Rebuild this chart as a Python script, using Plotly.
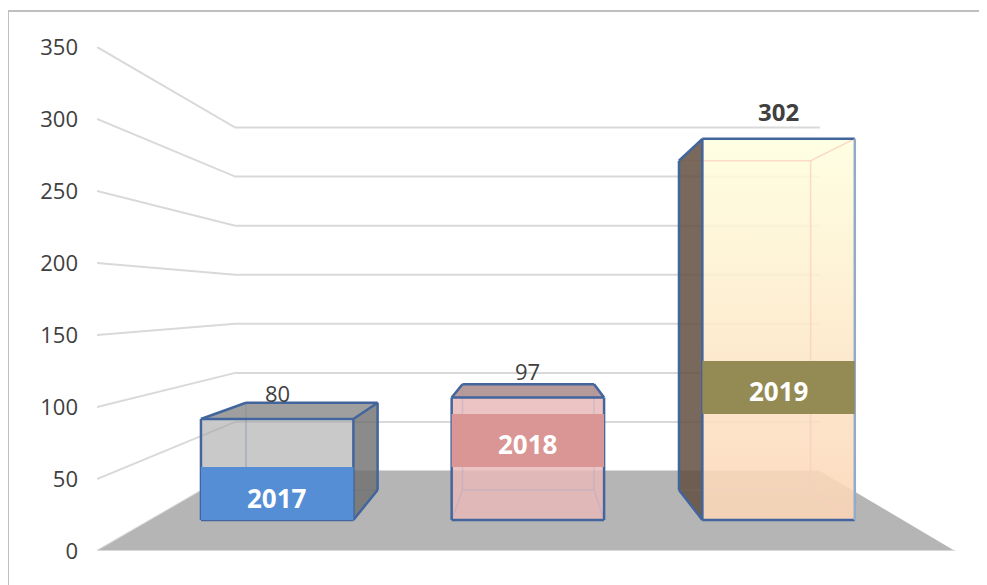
import plotly.graph_objects as go

# data
CATEGORIES = ['2017', '2018', '2019']
VALUES = [80, 97, 302]
Y_TICKS = [0, 50, 100, 150, 200, 250, 300, 350]

# colours per bar
FRONT = ['rgba(165,165,165,0.6)', 'rgba(232,185,185,0.84)', 'rgba(255,255,223,0.88)']
SIDE = ['rgba(110,110,110,0.8)', 'rgba(232,185,185,0.25)', 'rgba(98,79,64,0.85)']
TOP = ['rgba(135,135,135,0.8)', 'rgba(170,138,138,0.85)', 'rgba(255,255,223,0.3)']
BAND = ['#558ed5', '#d99694', '#948a54']
INNER = ['rgba(120,140,180,0.45)', 'rgba(165,165,195,0.35)', 'rgba(250,205,190,0.7)']
EDGE = '#41659c'
GRID = '#d9d9d9'
FLOOR = '#b5b5b5'
TEXT = '#404040'
FONT = 'Open Sans'

# perspective of the 3d box, in axis units
VP_X, VP_Y = 1.0175, 174.4
S_FRONT, S_BACK, S_WALL = 0.8766, 0.757, 0.6815
BAR_HALF = 0.304
BAR_SHIFT = 0.005
BAND_H = 42
LABEL_SHIFT = [10, 13, 27]


def project(x, v, s):
    return VP_X + s * (x - VP_X), VP_Y + s * (v - VP_Y)


def poly(points, color, gradient=None):
    xs = [p[0] for p in points]
    ys = [p[1] for p in points]
    kw = dict(fillgradient=gradient) if gradient else dict(fillcolor=color)
    return go.Scatter(x=xs, y=ys, mode='lines', fill='toself', cliponaxis=False,
                      line=dict(width=0, color='rgba(0,0,0,0)'),
                      hoverinfo='skip', showlegend=False, **kw)


def seg(a, b, color, width):
    return go.Scatter(x=[a[0], b[0]], y=[a[1], b[1]], mode='lines', cliponaxis=False,
                      line=dict(color=color, width=width), hoverinfo='skip', showlegend=False)


fig = go.Figure()

# wall and side gridlines
for t in Y_TICKS:
    pts = [project(-0.5, t, 1), project(-0.5, t, S_WALL), project(2.5, t, S_WALL)]
    fig.add_trace(go.Scatter(x=[p[0] for p in pts], y=[p[1] for p in pts], mode='lines',
                             cliponaxis=False, line=dict(color=GRID, width=2),
                             hoverinfo='skip', showlegend=False))

# floor
fig.add_trace(poly([project(-0.5, 0, 1), project(2.5, 0, 1), project(2.5, 0, S_WALL), project(-0.5, 0, S_WALL)], FLOOR))
fig.add_trace(seg(project(-0.5, 0, 1), project(2.5, 0, 1), GRID, 2))

for i, v in enumerate(VALUES):
    x0, x1 = i + BAR_SHIFT - BAR_HALF, i + BAR_SHIFT + BAR_HALF
    fbl, fbr = project(x0, 0, S_FRONT), project(x1, 0, S_FRONT)
    ftl, ftr = project(x0, v, S_FRONT), project(x1, v, S_FRONT)
    bbl, bbr = project(x0, 0, S_BACK), project(x1, 0, S_BACK)
    btl, btr = project(x0, v, S_BACK), project(x1, v, S_BACK)

    left_out = bbl[0] < fbl[0]
    right_out = bbr[0] > fbr[0]
    top_out = v < VP_Y

    # front face first so the hidden edges show through it
    if i == 2:
        grad = dict(type='vertical', colorscale=[[0, 'rgba(251,213,182,0.88)'], [1, 'rgba(255,255,223,0.88)']])
        fig.add_trace(poly([fbl, fbr, ftr, ftl], None, gradient=grad))
    else:
        fig.add_trace(poly([fbl, fbr, ftr, ftl], FRONT[i]))

    edges = [
        (bbl, bbr, False), (btl, btr, top_out), (bbl, btl, left_out), (bbr, btr, right_out),
        (fbl, bbl, left_out), (fbr, bbr, right_out),
        (ftl, btl, top_out or left_out), (ftr, btr, top_out or right_out),
    ]
    for a, b, dark in edges:
        if not dark:
            fig.add_trace(seg(a, b, INNER[i], 1.5))

    # faces seen from outside
    if left_out:
        fig.add_trace(poly([fbl, ftl, btl, bbl], SIDE[i]))
    if right_out:
        fig.add_trace(poly([fbr, ftr, btr, bbr], SIDE[i]))
    if top_out:
        fig.add_trace(poly([ftl, ftr, btr, btl], TOP[i]))

    for a, b, dark in edges:
        if dark:
            fig.add_trace(seg(a, b, EDGE, 2.5))
    for a, b in [(fbl, fbr), (ftr, ftl), (ftl, fbl)]:
        fig.add_trace(seg(a, b, EDGE, 2.5))
    fig.add_trace(seg(fbr, ftr, '#93aacb' if i == 2 else EDGE, 2.5))

    # category label box on the front face
    b0, b1 = i * BAND_H, (i + 1) * BAND_H
    fig.add_trace(poly([project(x0, b0, S_FRONT), project(x1, b0, S_FRONT),
                        project(x1, b1, S_FRONT), project(x0, b1, S_FRONT)], BAND[i]))
    cx, cy = project(i + BAR_SHIFT, (b0 + b1) / 2, S_FRONT)
    fig.add_annotation(x=cx, y=cy, yshift=-4, text='<b>%s</b>' % CATEGORIES[i], showarrow=False,
                       font=dict(family=FONT, size=26, color='white'))

    # value label above the bar
    lx, _ = project(i + BAR_SHIFT, v, S_FRONT)
    ly = max(ftl[1], btl[1])
    label = '<b>%d</b>' % v if i == 2 else str(v)
    fig.add_annotation(x=lx, y=ly, yshift=LABEL_SHIFT[i], text=label, showarrow=False,
                       font=dict(family=FONT, size=24 if i == 2 else 22, color=TEXT))

W, H = 987, 577
L, R, T, B = 89, 40, 39, 34

# outer frame, only the top and left borders fall inside the picture
px = lambda p: (p - L) / (W - L - R)
py = lambda p: (H - B - p) / (H - T - B)
frame = dict(color='#bfbfbf', width=2)
fig.add_shape(type='line', xref='paper', yref='paper', x0=px(0), x1=px(W), y0=py(3), y1=py(3), line=frame)
fig.add_shape(type='line', xref='paper', yref='paper', x0=px(0), x1=px(0), y0=py(3), y1=py(H), line=frame)

fig.update_layout(
    width=W, height=H,
    margin=dict(l=L, r=R, t=T, b=B, autoexpand=False),
    plot_bgcolor='white', paper_bgcolor='white',
    showlegend=False,
    xaxis=dict(range=[-0.5, 2.5], visible=False),
    yaxis=dict(range=[0, 350], tickvals=Y_TICKS, showgrid=False, zeroline=False, showline=False,
               ticks='', ticklabelstandoff=18, tickfont=dict(family=FONT, size=22, color=TEXT)),
)

fig.write_html("out.html")
